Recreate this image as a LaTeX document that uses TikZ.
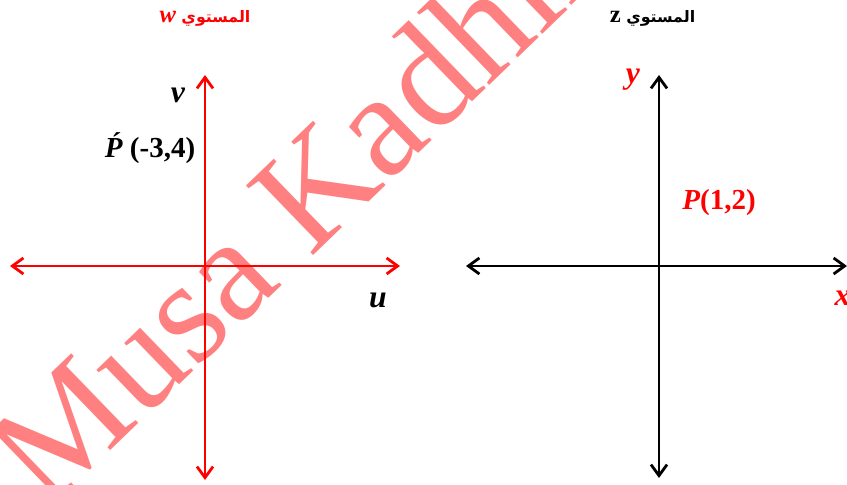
\documentclass[tikz,border=0pt]{standalone}
\usepackage{fontspec}
\setmainfont{Liberation Serif}
\newfontfamily\arabicfont[Script=Arabic]{DejaVu Sans}
\TeXXeTstate=1
\usetikzlibrary{arrows.meta}

\begin{document}
\begin{tikzpicture}[
    eje/.style={line width=1.6pt,
        {Straight Barb[length=2.2mm,width=3.2mm]}-{Straight Barb[length=2.2mm,width=3.2mm]}},
    var/.style={font=\fontsize{18}{18}\selectfont\bfseries\itshape},
    punto/.style={font=\fontsize{16.5}{16.5}\selectfont\bfseries},
    titulo/.style={font=\fontsize{9}{9}\selectfont\arabicfont\bfseries}
]
    \useasboundingbox (0,0) rectangle (16.94,9.7);
    \clip (0,0) rectangle (16.94,9.7);

    % marca de agua
    \node[red!50, rotate=44, anchor=base, font=\fontsize{84}{84}\selectfont]
        (marca) at (7.0,5.3) {Musa Kadhim};

    % plano w
    \coordinate (wL) at (0.2,4.38);
    \coordinate (wR) at (8.0,4.38);
    \coordinate (wB) at (4.10,0.1);
    \coordinate (wT) at (4.10,8.2);
    \draw[eje, red] (wL) -- (wR);
    \draw[eje, red] (wB) -- (wT);

    \node[titulo, red] (tw) at (4.10,9.33)
        {\beginR المستوي {\rmfamily\fontsize{14}{14}\selectfont\itshape w}\endR};
    \node[var] (v) at (3.56,7.8) {v};
    \node[var] (u) at (7.56,3.70) {u};
    \node[punto] (pw) at (3.0,6.74) {\textit{\'P} (-3,4)};

    % plano z
    \coordinate (zL) at (9.32,4.38);
    \coordinate (zR) at (16.94,4.38);
    \coordinate (zB) at (13.18,0.14);
    \coordinate (zT) at (13.18,8.2);
    \draw[eje] (zL) -- (zR);
    \draw[eje] (zB) -- (zT);

    \node[titulo] (tz) at (13.05,9.33)
        {\beginR المستوي {\rmfamily\fontsize{14}{14}\selectfont z}\endR};
    \node[var, red] (y) at (12.66,8.1) {y};
    \node[var, red] (x) at (16.85,3.74) {x};
    \node[punto, red] (pz) at (14.38,5.64) {\textit{P}(1,2)};
\end{tikzpicture}
\end{document}
